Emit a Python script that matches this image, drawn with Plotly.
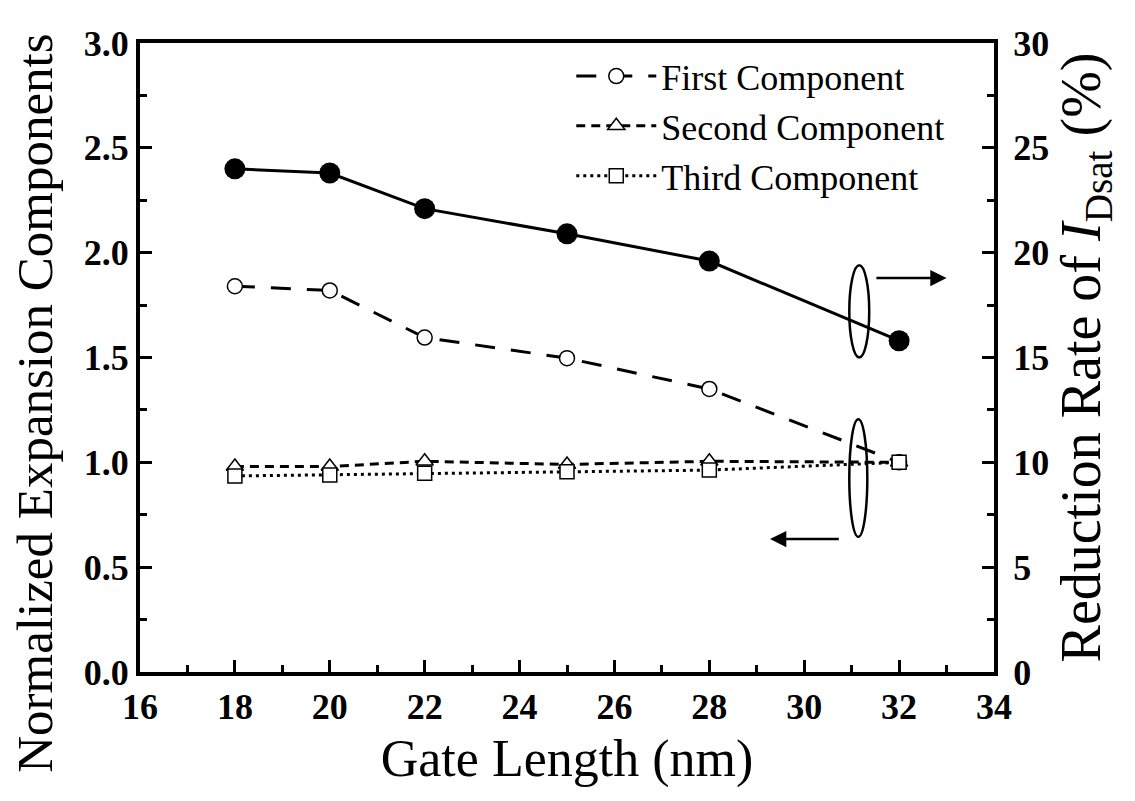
import plotly.graph_objects as go

gate_length = [18, 20, 22, 25, 28, 32]
first_component = [1.84, 1.82, 1.595, 1.497, 1.35, 1.0]
second_component = [0.98, 0.98, 1.005, 0.99, 1.005, 1.0]
third_component = [0.935, 0.94, 0.948, 0.955, 0.963, 1.0]
reduction_rate = [24.0, 23.8, 22.1, 20.9, 19.6, 15.8]

FONT = "Liberation Serif"

fig = go.Figure()

fig.add_trace(go.Scatter(
    x=gate_length, y=first_component, name="First Component",
    mode="lines+markers",
    line=dict(color="black", width=3, dash="20px,16px"),
    marker=dict(symbol="circle", size=15, color="white", line=dict(color="black", width=1.5)),
))
fig.add_trace(go.Scatter(
    x=gate_length, y=second_component, name="Second Component",
    mode="lines+markers",
    line=dict(color="black", width=3, dash="9px,6px"),
    marker=dict(symbol="triangle-up", size=15, color="white", line=dict(color="black", width=1.5)),
))
fig.add_trace(go.Scatter(
    x=gate_length, y=third_component, name="Third Component",
    mode="lines+markers",
    line=dict(color="black", width=3, dash="3px,4px"),
    marker=dict(symbol="square", size=14, color="white", line=dict(color="black", width=1.5)),
))
fig.add_trace(go.Scatter(
    x=gate_length, y=reduction_rate, name="Reduction Rate",
    mode="lines+markers", yaxis="y2", showlegend=False,
    line=dict(color="black", width=3),
    marker=dict(symbol="circle", size=21, color="black"),
))

tickfont = dict(family=FONT, size=36, color="black", weight="bold")
titlefont = dict(family=FONT, size=52, color="black")

# the page body adds an 8px offset, so the figure is 8px smaller and margins compensated
fig.update_layout(
    width=1127, height=793,
    paper_bgcolor="white", plot_bgcolor="white",
    margin=dict(l=132, r=141, t=35, b=129),
    font=dict(family=FONT, color="black"),
    xaxis=dict(
        range=[16, 34], dtick=2, tick0=16,
        showline=True, linewidth=4, linecolor="black", mirror=True,
        ticks="inside", ticklen=12, tickwidth=3, tickcolor="black",
        minor=dict(ticks="inside", ticklen=7, tickwidth=3, dtick=1, tickcolor="black"),
        showgrid=False, zeroline=False,
        tickfont=tickfont,
        title=dict(text="Gate Length (nm)", font=titlefont, standoff=14),
    ),
    yaxis=dict(
        range=[0, 3], dtick=0.5, tickformat=".1f",
        showline=True, linewidth=4, linecolor="black",
        ticks="inside", ticklen=12, tickwidth=3, tickcolor="black",
        minor=dict(ticks="inside", ticklen=7, tickwidth=3, dtick=0.25, tickcolor="black"),
        showgrid=False, zeroline=False,
        tickfont=tickfont,
    ),
    yaxis2=dict(
        range=[0, 30], dtick=5, overlaying="y", side="right",
        showline=True, linewidth=4, linecolor="black",
        ticks="inside", ticklen=12, tickwidth=3, tickcolor="black",
        minor=dict(ticks="inside", ticklen=7, tickwidth=3, dtick=2.5, tickcolor="black"),
        showgrid=False, zeroline=False,
        tickfont=tickfont, ticklabelstandoff=8,
        title=dict(text="Reduction Rate of <i>I</i><sub>Dsat</sub> (%)",
                   font=dict(family=FONT, size=56, color="black"), standoff=14),
    ),
    legend=dict(
        x=0.505, y=0.995, xanchor="left", yanchor="top",
        bgcolor="rgba(0,0,0,0)", borderwidth=0,
        font=dict(family=FONT, size=36, color="black"),
        itemwidth=80, tracegroupgap=0,
    ),
    showlegend=True,
)

# Left axis title (placed as an annotation so it can sit lower, as in the reference)
fig.add_annotation(text="Normalized Expansion Components", xref="paper", yref="paper",
                   x=-0.123, y=0.428, xanchor="center", yanchor="middle", textangle=-90,
                   showarrow=False, borderpad=0,
                   font=dict(family=FONT, size=51, color="black"))

# Ellipses grouping the series with their axes
fig.add_shape(type="circle", xref="x", yref="y", x0=30.95, x1=31.37, y0=1.50, y1=1.94,
              line=dict(color="black", width=2.5))
fig.add_shape(type="circle", xref="x", yref="y", x0=30.95, x1=31.33, y0=0.645, y1=1.205,
              line=dict(color="black", width=2.5))

# Arrows pointing to the relevant axis
fig.add_annotation(x=33.0, y=1.879, ax=31.49, ay=1.879, xref="x", yref="y", axref="x", ayref="y",
                   showarrow=True, arrowhead=2, arrowsize=1.3, arrowwidth=2.5, arrowcolor="black", text="")
fig.add_annotation(x=29.28, y=0.634, ax=30.76, ay=0.634, xref="x", yref="y", axref="x", ayref="y",
                   showarrow=True, arrowhead=2, arrowsize=1.3, arrowwidth=2.5, arrowcolor="black", text="")

fig.write_html("out.html")
